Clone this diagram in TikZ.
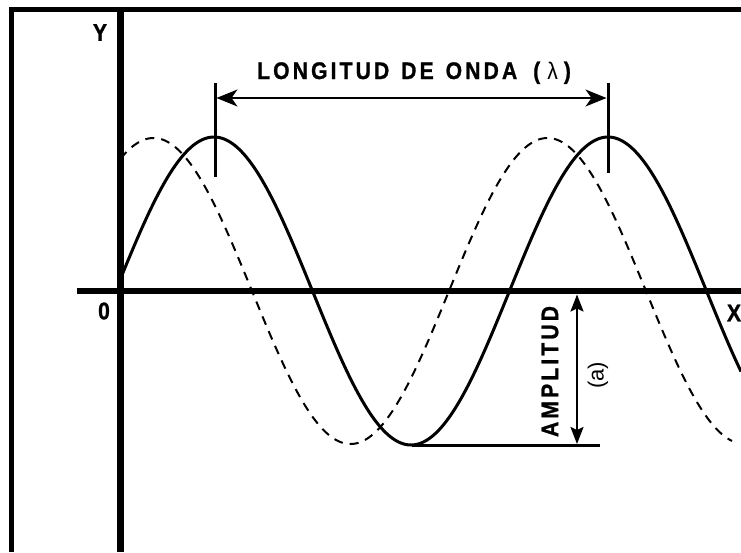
\documentclass[tikz,border=0pt]{standalone}
\usepackage{fontspec}
\setmainfont{Liberation Sans}
\newfontfamily\labfont[LetterSpace=13,FakeStretch=0.88,BoldFeatures={FakeBold=1}]{Liberation Sans}
\newfontfamily\axfont[FakeStretch=0.88,BoldFeatures={FakeBold=1}]{Liberation Sans}
\usetikzlibrary{arrows.meta}
\begin{document}
\begin{tikzpicture}[x=1pt,y=-1pt,
  frameline/.style={line width=5.5pt, line join=miter},
  axisline/.style={line width=6.5pt},
  wave/.style={line width=3pt, line join=round},
  ghostwave/.style={line width=2pt, dash pattern=on 9pt off 7pt},
  tickline/.style={line width=3pt},
  dimline/.style={line width=1.5pt},
  bigtip/.tip={Stealth[length=21pt,width=17pt,inset=6pt]},
  smalltip/.tip={Stealth[length=17pt,width=13pt,inset=3pt]},
  lab/.style={font=\labfont\bfseries\fontsize{24}{28}\selectfont, inner sep=0pt},
  axlab/.style={font=\axfont\bfseries\fontsize{24}{28}\selectfont, inner sep=0pt},
  plainlab/.style={font=\fontsize{22}{26}\selectfont, inner sep=0pt}
]
\useasboundingbox (0,0) rectangle (741,552);
\fill[white] (0,0) rectangle (741,552);
% frame
\coordinate (fbl) at (11.3,552);
\coordinate (ftl) at (11.3,9.7);
\coordinate (ftr) at (741,9.7);
\draw[frameline] (fbl) -- (ftl) -- (ftr);
% axes
\coordinate (ytop) at (120.5,9.7);
\coordinate (ybot) at (120.5,552);
\coordinate (xl) at (77,291);
\coordinate (xr) at (741,291);
\draw[axisline] (ytop) -- (ybot);
\draw[axisline] (xl) -- (xr);
% waves
\draw[ghostwave] plot[domain=120.5:732,samples=300] (\x,{291-153*sin((\x-55)/394*360)});
\draw[wave] plot[domain=120.5:741,samples=300] (\x,{291-154*sin((\x-115.5)/394*360)});
% wavelength
\coordinate (t1a) at (215,83);
\coordinate (t1b) at (215,177);
\coordinate (t2a) at (608,83);
\coordinate (t2b) at (608,173);
\draw[tickline] (t1a) -- (t1b);
\draw[tickline] (t2a) -- (t2b);
\coordinate (w1) at (216.5,98);
\coordinate (w2) at (606.5,98);
\draw[dimline,{bigtip}-{bigtip}] (w1) -- (w2);
% amplitude
\coordinate (tr1) at (412,445.5);
\coordinate (tr2) at (600,445.5);
\draw[line width=2.5pt] (tr1) -- (tr2);
\coordinate (a1) at (577,294.5);
\coordinate (a2) at (577,444);
\draw[dimline,line width=2pt,{smalltip}-{smalltip}] (a1) -- (a2);
% labels
\node[lab, anchor=base] (wltxt) at (414,79) {LONGITUD\hspace{3pt} DE\hspace{3pt} ONDA\hspace{7pt} (\kern7pt{\mdseries λ}\kern6pt)};
\node[lab, rotate=90] (amptxt) at (550,371.5) {AMPLITUD};
\node[plainlab, rotate=90] (atxt) at (598,375.5) {(a)};
\node[axlab] (ylab) at (100,32.5) {Y};
\node[axlab] (olab) at (104,311) {0};
\node[axlab] (xlab) at (734,313) {X};
\end{tikzpicture}
\end{document}
